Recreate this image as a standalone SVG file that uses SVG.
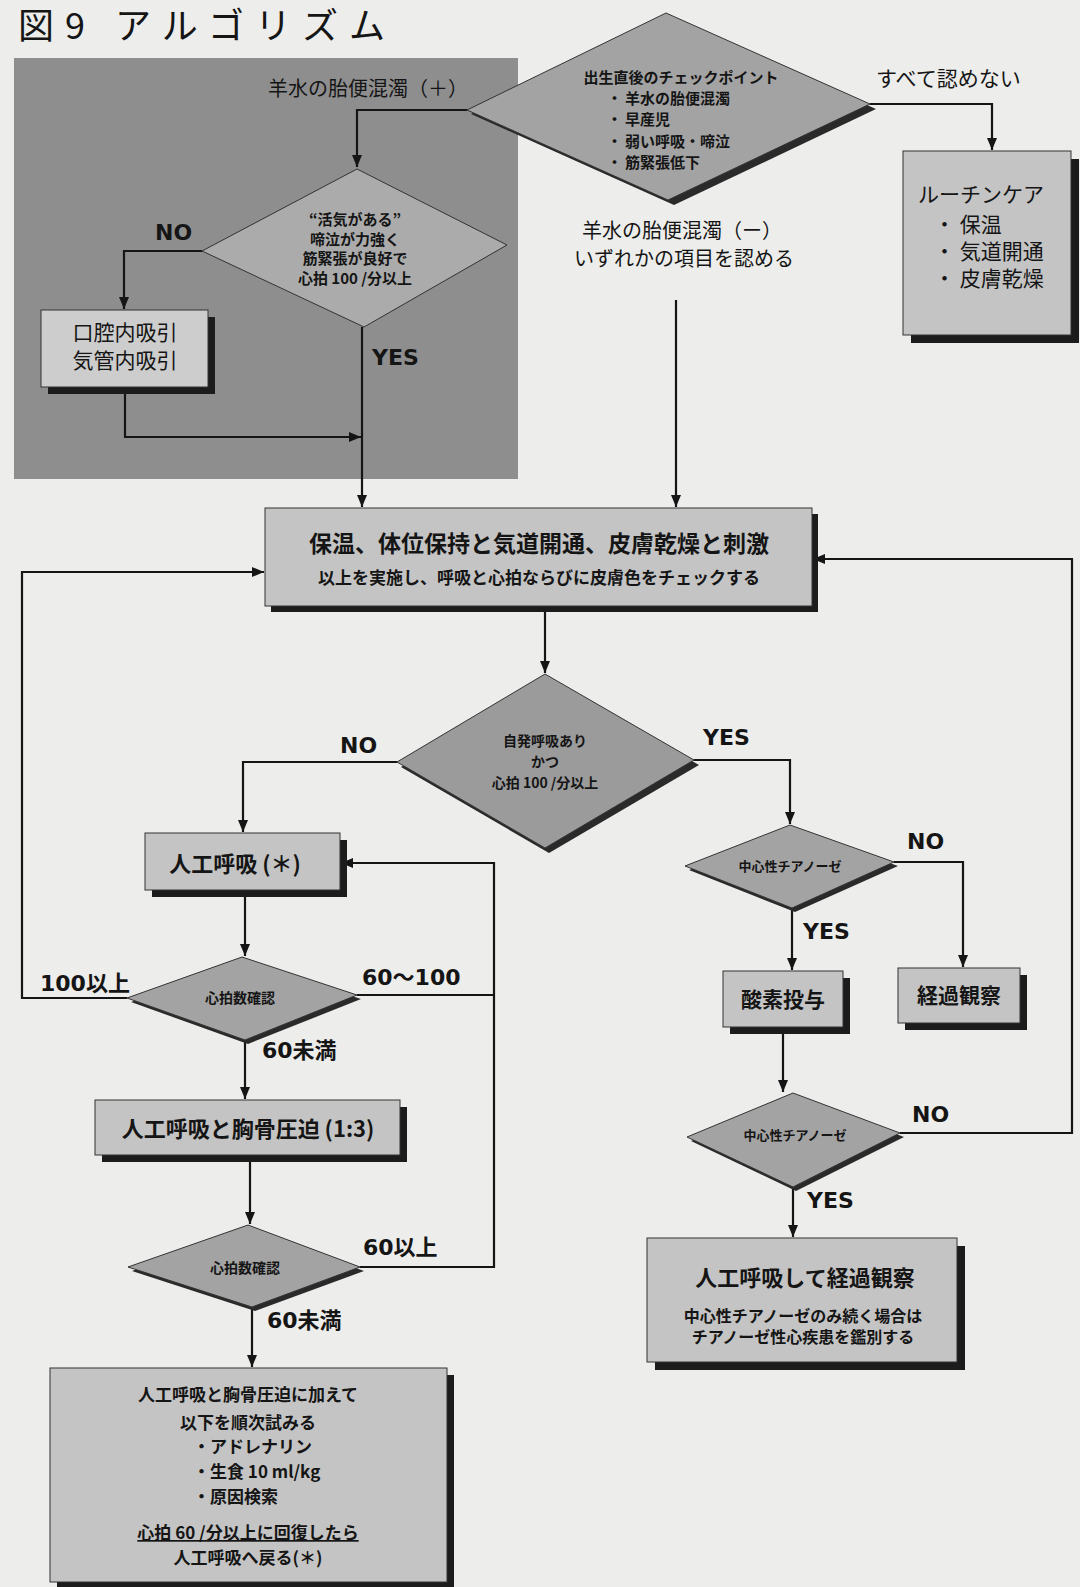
<svg xmlns="http://www.w3.org/2000/svg" width="1080" height="1587" viewBox="0 0 1080 1587">
<defs>
<marker id="arr" viewBox="0 0 12 10" refX="12" refY="5" markerWidth="12" markerHeight="10" markerUnits="userSpaceOnUse" orient="auto">
<path d="M0,0 L12,5 L0,10 z" fill="#151515"/>
</marker>
<style>
.box{fill:#c4c4c4;stroke:#333;stroke-width:1}
.boxl{fill:#cdcdcd;stroke:#333;stroke-width:1}
.sh{fill:#1c1c1c}
.dia{fill:#a3a3a3;stroke:#333;stroke-width:1}
.dsh{fill:#2a2a2a}
.conn{fill:none;stroke:#151515;stroke-width:2.2}
.jp{font-family:"Noto Sans CJK JP","Noto Sans CJK SC",sans-serif;fill:#151515}
.b{font-weight:bold}
.lbl{font-family:"DejaVu Sans","Noto Sans CJK JP",sans-serif;font-weight:bold;font-size:22px;fill:#151515}
.c{text-anchor:middle}
</style>
</defs>
<rect x="0" y="0" width="1080" height="1587" fill="#ededeb"/>
<text x="18" y="39" class="jp" font-size="36" letter-spacing="11" fill="#222">図9 アルゴリズム</text>
<rect x="14" y="58" width="504" height="421" fill="#8e8e8e"/>

<g id="connectors">
<path class="conn" d="M467,110 H357 V167" marker-end="url(#arr)"/>
<path class="conn" d="M870,104 H992 V150" marker-end="url(#arr)"/>
<path class="conn" d="M202,251 H124 V309" marker-end="url(#arr)"/>
<path class="conn" d="M125,387 V437 H361" marker-end="url(#arr)"/>
<path class="conn" d="M362,327 V507" marker-end="url(#arr)"/>
<path class="conn" d="M676,300 V507" marker-end="url(#arr)"/>
<path class="conn" d="M545,607 V673" marker-end="url(#arr)"/>
<path class="conn" d="M397,762 H243 V832" marker-end="url(#arr)"/>
<path class="conn" d="M694,760 H790 V824" marker-end="url(#arr)"/>
<path class="conn" d="M894,862 H963 V967" marker-end="url(#arr)"/>
<path class="conn" d="M792,908 V970" marker-end="url(#arr)"/>
<path class="conn" d="M783,1027 V1092" marker-end="url(#arr)"/>
<path class="conn" d="M900,1133 H1072 V559 H813" marker-end="url(#arr)"/>
<path class="conn" d="M793,1187 V1237" marker-end="url(#arr)"/>
<path class="conn" d="M245,890 V956" marker-end="url(#arr)"/>
<path class="conn" d="M127,998 H22 V572 H264" marker-end="url(#arr)"/>
<path class="conn" d="M357,995 H494"/>
<path class="conn" d="M360,1267 H494 V863 H341" marker-end="url(#arr)"/>
<path class="conn" d="M245,1040 V1099" marker-end="url(#arr)"/>
<path class="conn" d="M250,1155 V1224" marker-end="url(#arr)"/>
<path class="conn" d="M252,1307 V1367" marker-end="url(#arr)"/>
</g>

<g id="labels">
<text x="468" y="96" class="jp" font-size="20" text-anchor="end" fill="#1a1a1a">羊水の胎便混濁（＋）</text>
<text x="876" y="86" class="jp" font-size="21">すべて認めない</text>
<text x="682" y="238" class="jp c" font-size="20">羊水の胎便混濁（ー）</text>
<text x="684" y="266" class="jp c" font-size="20">いずれかの項目を認める</text>
<text x="155" y="240" class="lbl">NO</text>
<text x="372" y="365" class="lbl">YES</text>
<text x="340" y="753" class="lbl">NO</text>
<text x="703" y="745" class="lbl">YES</text>
<text x="907" y="849" class="lbl">NO</text>
<text x="803" y="939" class="lbl">YES</text>
<text x="912" y="1122" class="lbl">NO</text>
<text x="807" y="1208" class="lbl">YES</text>
<text x="40" y="991" class="lbl" font-size="21">100以上</text>
<text x="362" y="985" class="lbl" font-size="21">60～100</text>
<text x="262" y="1058" class="lbl" font-size="21">60未満</text>
<text x="363" y="1255" class="lbl" font-size="21">60以上</text>
<text x="267" y="1328" class="lbl" font-size="21">60未満</text>
</g>

<g id="n-check">
<polygon class="dsh" points="672,18 876,109 674,205 471,114"/>
<polygon class="dia" points="666,13 870,104 668,200 467,110"/>
<text x="681" y="83" class="jp b c" font-size="15">出生直後のチェックポイント</text>
<text x="607" y="104" class="jp b" font-size="15">・</text>
<text x="625" y="104" class="jp b" font-size="15">羊水の胎便混濁</text>
<text x="607" y="125" class="jp b" font-size="15">・</text>
<text x="625" y="125" class="jp b" font-size="15">早産児</text>
<text x="607" y="147" class="jp b" font-size="15">・</text>
<text x="625" y="147" class="jp b" font-size="15">弱い呼吸・啼泣</text>
<text x="607" y="168" class="jp b" font-size="15">・</text>
<text x="625" y="168" class="jp b" font-size="15">筋緊張低下</text>
</g>

<g id="n-routine">
<rect class="sh" x="911" y="159" width="168" height="184"/>
<rect class="box" x="903" y="151" width="168" height="184"/>
<text x="918" y="202" class="jp" font-size="21">ルーチンケア</text>
<text x="934" y="232" class="jp" font-size="21">・ 保温</text>
<text x="934" y="259" class="jp" font-size="21">・ 気道開通</text>
<text x="934" y="286" class="jp" font-size="21">・ 皮膚乾燥</text>
</g>

<g id="n-vigor">
<polygon class="dia" style="fill:#ababab" points="357,169 507,245 364,327 202,251"/>
<text x="355" y="225" class="jp b c" font-size="15">“活気がある”</text>
<text x="355" y="245" class="jp b c" font-size="15">啼泣が力強く</text>
<text x="355" y="264" class="jp b c" font-size="15">筋緊張が良好で</text>
<text x="355" y="284" class="jp b c" font-size="15">心拍 100 /分以上</text>
</g>

<g id="n-suction">
<rect class="sh" x="48" y="317" width="167" height="77"/>
<rect class="boxl" x="41" y="310" width="167" height="77"/>
<text x="125" y="340" class="jp c" font-size="21">口腔内吸引</text>
<text x="125" y="368" class="jp c" font-size="21">気管内吸引</text>
</g>

<g id="n-main">
<rect class="sh" x="271" y="514" width="547" height="98"/>
<rect class="box" x="265" y="508" width="547" height="98"/>
<text x="539" y="552" class="jp b c" font-size="23">保温、体位保持と気道開通、皮膚乾燥と刺激</text>
<text x="539" y="584" class="jp b c" font-size="17">以上を実施し、呼吸と心拍ならびに皮膚色をチェックする</text>
</g>

<g id="n-breath">
<polygon class="dsh" points="549,679 699,765 549,853 401,767"/>
<polygon class="dia" style="fill:#9b9b9b" points="545,674 694,760 545,848 397,762"/>
<text x="545" y="746" class="jp b c" font-size="14">自発呼吸あり</text>
<text x="545" y="767" class="jp b c" font-size="14">かつ</text>
<text x="545" y="788" class="jp b c" font-size="14">心拍 100 /分以上</text>
</g>

<g id="n-cyan1">
<polygon class="dsh" points="793,829 898,866 795,912 689,870"/>
<polygon class="dia" points="790,825 894,862 792,908 685,866"/>
<text x="790" y="871" class="jp b c" font-size="13">中心性チアノーゼ</text>
</g>

<g id="n-oxygen">
<rect class="sh" x="730" y="978" width="120" height="56"/>
<rect class="box" x="723" y="971" width="120" height="56"/>
<text x="783" y="1007" class="jp b c" font-size="21">酸素投与</text>
</g>

<g id="n-observe">
<rect class="sh" x="905" y="975" width="122" height="55"/>
<rect class="box" x="898" y="968" width="122" height="55"/>
<text x="959" y="1003" class="jp b c" font-size="21">経過観察</text>
</g>

<g id="n-cyan2">
<polygon class="dsh" points="796,1097 904,1137 796,1191 691,1141"/>
<polygon class="dia" points="793,1093 900,1133 793,1187 687,1137"/>
<text x="795" y="1140" class="jp b c" font-size="13">中心性チアノーゼ</text>
</g>

<g id="n-ventobs">
<rect class="sh" x="655" y="1246" width="310" height="124"/>
<rect class="box" x="647" y="1238" width="310" height="124"/>
<text x="805" y="1286" class="jp b c" font-size="22">人工呼吸して経過観察</text>
<text x="803" y="1322" class="jp b c" font-size="16">中心性チアノーゼのみ続く場合は</text>
<text x="803" y="1343" class="jp b c" font-size="16">チアノーゼ性心疾患を鑑別する</text>
</g>

<g id="n-vent">
<rect class="sh" x="152" y="840" width="195" height="57"/>
<rect class="box" x="145" y="833" width="195" height="57"/>
<text x="235" y="872" class="jp b c" font-size="22">人工呼吸 (＊)</text>
</g>

<g id="n-hr1">
<polygon class="dsh" points="245,961 361,999 248,1044 131,1002"/>
<polygon class="dia" points="242,957 357,995 245,1040 127,998"/>
<text x="240" y="1003" class="jp b c" font-size="14">心拍数確認</text>
</g>

<g id="n-ventcpr">
<rect class="sh" x="102" y="1107" width="305" height="55"/>
<rect class="box" x="95" y="1100" width="305" height="55"/>
<text x="248" y="1137" class="jp b c" font-size="22">人工呼吸と胸骨圧迫 (1:3)</text>
</g>

<g id="n-hr2">
<polygon class="dsh" points="251,1229 364,1271 255,1311 132,1271"/>
<polygon class="dia" points="248,1225 360,1267 252,1307 128,1267"/>
<text x="245" y="1273" class="jp b c" font-size="14">心拍数確認</text>
</g>

<g id="n-adv">
<rect class="sh" x="57" y="1375" width="397" height="214"/>
<rect class="box" x="50" y="1368" width="397" height="214"/>
<text x="248" y="1401" class="jp b c" font-size="17">人工呼吸と胸骨圧迫に加えて</text>
<text x="248" y="1429" class="jp b c" font-size="17">以下を順次試みる</text>
<text x="193" y="1453" class="jp b" font-size="17">・アドレナリン</text>
<text x="193" y="1478" class="jp b" font-size="17">・生食 10 ml/kg</text>
<text x="193" y="1503" class="jp b" font-size="17">・原因検索</text>
<text x="248" y="1539" class="jp b c" font-size="17" text-decoration="underline">心拍 60 /分以上に回復したら</text>
<text x="248" y="1564" class="jp b c" font-size="17">人工呼吸へ戻る(＊)</text>
</g>
</svg>
